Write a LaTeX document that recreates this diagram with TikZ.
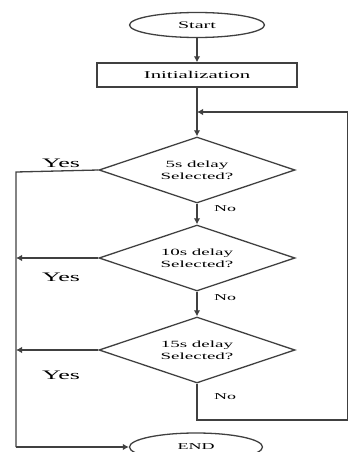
\documentclass[tikz,border=0pt]{standalone}
\usepackage{fontspec}
\setmainfont{Liberation Serif}
\usepackage{graphicx}
\usetikzlibrary{shapes.geometric,arrows.meta}
\newcommand\wide[1]{\scalebox{2}[1]{#1}}
\tikzset{
  line/.style={draw=black!75,line width=1.3pt},
  arr/.style={line,-{Latex[length=6pt,width=6.5pt]}},
  term/.style={ellipse,line,inner sep=0pt,minimum width=135pt,minimum height=25pt,font=\fontsize{10}{12}\selectfont},
  proc/.style={rectangle,line,inner sep=0pt,minimum width=200pt,minimum height=24pt,font=\fontsize{10.4}{12}\selectfont},
  decide/.style={diamond,line,inner sep=0pt,shape aspect=3,minimum width=196pt,minimum height=66pt,align=center,font=\fontsize{9.5}{12}\selectfont},
  lab/.style={inner sep=0pt,font=\fontsize{9}{11}\selectfont},
  yeslab/.style={inner sep=0pt,font=\fontsize{13}{15}\selectfont},
}
\begin{document}
\begin{tikzpicture}[x=1pt,y=-1pt]
\useasboundingbox (0,0) rectangle (349,452);
\node[term] (start) at (197,25) {\wide{Start}};
\node[proc] (init) at (197,75) {\wide{Initialization}};
\node[decide] (d1) at (197,170) {\wide{5s delay}\\\wide{Selected?}};
\node[decide] (d2) at (197,258) {\wide{10s delay}\\\wide{Selected?}};
\node[decide] (d3) at (197,350) {\wide{15s delay}\\\wide{Selected?}};
\node[term,minimum width=133pt,minimum height=28pt,font=\fontsize{9}{11}\selectfont] (end) at (196,447) {\wide{END}};
\coordinate (join) at (197,112);
\coordinate (nobot) at (197,420);
\coordinate (noright) at (347.5,420);
\coordinate (loopright) at (347.5,112);
\coordinate (ltop) at (16,172);
\coordinate (lbot) at (16,447);
\draw[arr] (start) -- (init);
\draw[arr] (init) -- (d1);
\draw[arr] (d1) -- (d2);
\draw[arr] (d2) -- (d3);
\draw[line] (d3.south) -- (nobot) -- (noright) -- (loopright);
\draw[arr] (loopright) -- (join);
\draw[line] (d1.west) -- (ltop) -- (lbot);
\draw[arr] (lbot) -- (end.west);
\draw[arr] (d2.west) -- (d2.west -| ltop);
\draw[arr] (d3.west) -- (d3.west -| ltop);
\node[yeslab] (y1) at (61,163) {\wide{Yes}};
\node[yeslab] (y2) at (61,277) {\wide{Yes}};
\node[yeslab] (y3) at (61,375) {\wide{Yes}};
\node[lab] (n1) at (225,209) {\wide{No}};
\node[lab] (n2) at (225,298) {\wide{No}};
\node[lab] (n3) at (225,397) {\wide{No}};
\end{tikzpicture}
\end{document}
